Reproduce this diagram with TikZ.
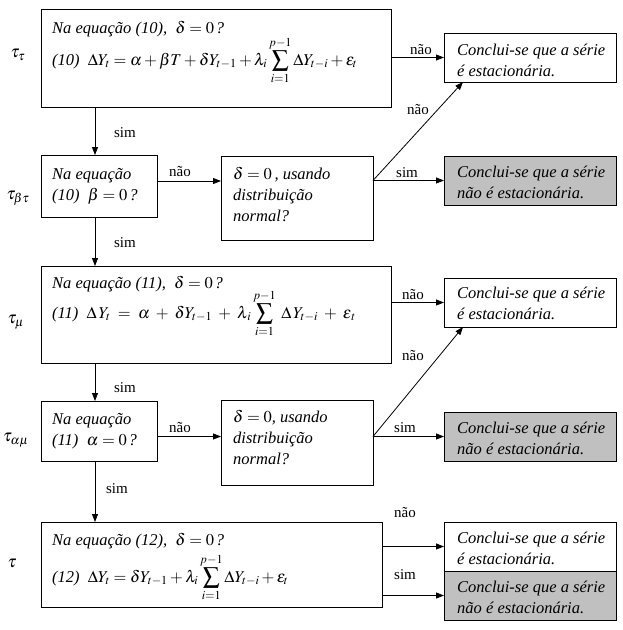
\documentclass[tikz,border=0pt]{standalone}
\usepackage{mathptmx}
\usepackage[no-math]{fontspec}
\setmainfont{Liberation Serif}
\usetikzlibrary{arrows.meta,calc}
\definecolor{resgray}{RGB}{192,192,192}
\begin{document}
\begin{tikzpicture}[x=1pt,y=-1pt,
 box/.style={draw, line width=0.8pt, inner sep=0pt, outer sep=0pt, anchor=north west},
 res/.style={box, minimum width=172pt, minimum height=49pt},
 gres/.style={res, fill=resgray},
 txt/.style={anchor=base west, inner sep=0pt, align=left, font=\fontsize{16.5}{21}\selectfont\itshape},
 lbl/.style={inner sep=0pt, font=\fontsize{15}{18}\selectfont},
 tau/.style={inner sep=0pt, font=\fontsize{17}{20}\selectfont},
 arr/.style={line width=0.8pt, -{Triangle[length=8pt,width=6pt]}},
 ln/.style={line width=0.8pt}]
\fill[white] (0,0) rectangle (622,630);
\path[use as bounding box] (0,0) rectangle (622,630);

% boxes
\node[box, minimum width=350pt, minimum height=98pt] (b1) at (41,9) {};
\node[box, minimum width=116pt, minimum height=62pt] (b2) at (41,155) {};
\node[box, minimum width=152pt, minimum height=84pt] (d1) at (221,156) {};
\node[box, minimum width=350pt, minimum height=97pt] (b3) at (41,266) {};
\node[box, minimum width=116pt, minimum height=60pt] (b4) at (41,401) {};
\node[box, minimum width=152pt, minimum height=85pt] (d2) at (221,400) {};
\node[box, minimum width=341pt, minimum height=85pt] (b5) at (41,522) {};
\node[res] (r1) at (444,33) {};
\node[gres] (r2) at (444,156) {};
\node[res] (r3) at (444,278) {};
\node[gres] (r4) at (444,412) {};
\node[res] (r5a) at (444,522) {};
\node[gres] (r5b) at (444,571) {};

% texts in boxes (multi-line nodes are placed by the baseline of their last line)
\node[txt] (t1a) at (52,33) {Na equação (10), \ $\delta = 0\,$?};
\node[txt] (t1b) at (52,65) {(10) \ $\displaystyle \Delta Y_t = \alpha + \beta T + \delta Y_{t-1} + \lambda_i \sum_{i=1}^{p-1} \Delta Y_{t-i} + \varepsilon_t$};
\node[txt] (t2) at (52,200) {Na equação\\(10) \ $\beta = 0\,$?};
\node[txt] (t3) at (233,221) {$\delta = 0$\,, usando\\distribuição\\normal?};
\node[txt] (t4a) at (52,288) {Na equação (11), \ $\delta = 0\,$?};
\node[txt] (t4b) at (52,318) {(11) \ $\displaystyle \Delta\, Y_t \;=\; \alpha \;+\; \delta Y_{t-1} \;+\; \lambda_{\,i} \sum_{i=1}^{p-1} \;\Delta\, Y_{t-i} \;+\; \varepsilon_{\,t}$};
\node[txt] (t5) at (52,445) {Na equação\\(11) \ $\alpha = 0\,$?};
\node[txt] (t6) at (233,464) {$\delta = 0$, usando\\distribuição\\normal?};
\node[txt] (t7a) at (52,545) {Na equação (12), \ $\delta = 0\,$?};
\node[txt] (t7b) at (52,582) {(12) \ $\displaystyle \Delta Y_t = \delta Y_{t-1} + \lambda_i \sum_{i=1}^{p-1} \Delta Y_{t-i} + \varepsilon_t$};
\node[txt] (s1) at (457,76) {Conclui-se que a série\\é estacionária.};
\node[txt] (s2) at (457,198) {Conclui-se que a série\\não é estacionária.};
\node[txt] (s3) at (457,319) {Conclui-se que a série\\é estacionária.};
\node[txt] (s4) at (457,454) {Conclui-se que a série\\não é estacionária.};
\node[txt] (s5) at (457,564) {Conclui-se que a série\\é estacionária.};
\node[txt] (s6) at (457,613) {Conclui-se que a série\\não é estacionária.};

% tau labels
\node[tau] (tau1) at (18,55) {$\tau_\tau$};
\node[tau] (tau2) at (18,198) {$\tau_{\beta\tau}$};
\node[tau] (tau3) at (16,322) {$\tau_\mu$};
\node[tau] (tau4) at (16,440) {$\tau_{\alpha\mu}$};
\node[tau] (tau5) at (12,563) {$\tau$};

% connectors
\draw[arr] (b1.east |- r1.west) -- (r1.west);
\draw[arr] ([xshift=54pt]b1.south west) -- ([xshift=54pt]b2.north west);
\coordinate (o2) at ([yshift=5pt]b2.east);
\draw[arr] (o2) -- (o2 -| d1.west);
\coordinate (o3) at (d1.east |- r2.west);
\draw[arr] (o3) -- (r2.west);
\draw[arr] (o3) -- ([xshift=19pt]r1.south west);
\draw[arr] ([xshift=54pt]b2.south west) -- ([xshift=54pt]b3.north west);
\draw[arr] (b3.east |- r3.west) -- (r3.west);
\draw[arr] ([xshift=54pt]b3.south west) -- ([xshift=54pt]b4.north west);
\draw[arr] (b4.east |- r4.west) -- (d2.west |- r4.west);
\coordinate (o5) at (d2.east |- r4.west);
\draw[arr] (o5) -- (r4.west);
\draw[arr] (o5) -- ([xshift=19pt]r3.south west);
\draw[arr] ([xshift=54pt]b4.south west) -- ([xshift=54pt]b5.north west);
\draw[arr] (b5.east |- r5a.west) -- (r5a.west);
\draw[arr] (b5.east |- r5b.west) -- (r5b.west);

% connector labels
\node[lbl] (l1) at (421,50) {não};
\node[lbl] (l2) at (418,110) {não};
\node[lbl] (l3) at (407,173) {sim};
\node[lbl] (l4) at (125,133) {sim};
\node[lbl] (l5) at (180,172) {não};
\node[lbl] (l6) at (125,243) {sim};
\node[lbl] (l7) at (413,295) {não};
\node[lbl] (l8) at (413,356) {não};
\node[lbl] (l9) at (125,388) {sim};
\node[lbl] (l10) at (180,428) {não};
\node[lbl] (l11) at (405,428) {sim};
\node[lbl] (l12) at (117,489) {sim};
\node[lbl] (l13) at (405,513) {não};
\node[lbl] (l14) at (405,575) {sim};
\end{tikzpicture}
\end{document}
